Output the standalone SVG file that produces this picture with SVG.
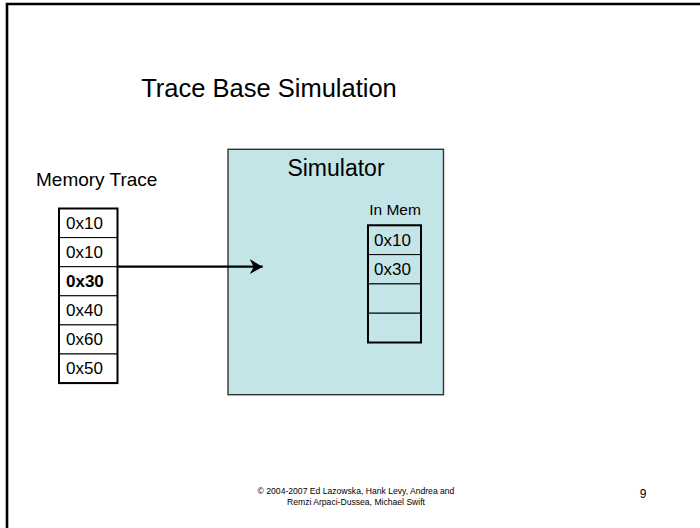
<svg xmlns="http://www.w3.org/2000/svg" width="700" height="528" viewBox="0 0 700 528">
  <style>
    text { font-family: "Liberation Sans", Arial, sans-serif; fill: #000; }
    .cell { fill: #fff; stroke: #000; stroke-width: 1; }
    .cell-sim { fill: #C4E5E8; stroke: #000; stroke-width: 1; }
    .cellbox { fill: none; stroke: #000; stroke-width: 2; }
    .val { font-size: 17px; }
    .conn { stroke: #000; stroke-width: 2.2; fill: none; }
  </style>
  <defs>
    <marker id="arrow" viewBox="0 0 14 16" refX="13" refY="8" markerWidth="14" markerHeight="16" markerUnits="userSpaceOnUse" orient="auto">
      <path d="M0,0.5 L13,8 L0,15.5 L4,8 Z" fill="#000"/>
    </marker>
  </defs>

  <rect width="700" height="528" fill="#fff"/>
  <!-- slide frame -->
  <path d="M7,528 V4 H700" fill="none" stroke="#000" stroke-width="2.6"/>

  <text x="269" y="97" font-size="25.5" text-anchor="middle">Trace Base Simulation</text>

  <!-- memory trace column -->
  <g id="memory-trace">
    <text x="36" y="186" font-size="19">Memory Trace</text>
    <rect class="cell" x="59" y="208.5" width="58.5" height="29.1"/>
    <rect class="cell" x="59" y="237.6" width="58.5" height="29.1"/>
    <rect class="cell" x="59" y="266.7" width="58.5" height="29.1"/>
    <rect class="cell" x="59" y="295.8" width="58.5" height="29.1"/>
    <rect class="cell" x="59" y="324.9" width="58.5" height="29.1"/>
    <rect class="cell" x="59" y="354" width="58.5" height="29.1"/>
    <rect class="cellbox" x="59" y="208.5" width="58.5" height="174.6"/>
    <text class="val" x="66" y="229">0x10</text>
    <text class="val" x="66" y="258">0x10</text>
    <text class="val" x="66" y="287" font-weight="bold">0x30</text>
    <text class="val" x="66" y="316">0x40</text>
    <text class="val" x="66" y="345">0x60</text>
    <text class="val" x="66" y="374">0x50</text>
  </g>

  <!-- simulator block -->
  <g id="simulator">
    <rect x="228" y="149.3" width="215.5" height="245.4" fill="#C4E5E8" stroke="#333" stroke-width="1.4"/>
    <text x="336" y="176" font-size="23" text-anchor="middle">Simulator</text>
  </g>

  <!-- in-memory pages -->
  <g id="in-mem">
    <text x="395" y="215" font-size="15.5" text-anchor="middle">In Mem</text>
    <rect class="cell-sim" x="368" y="225.3" width="53" height="29.3"/>
    <rect class="cell-sim" x="368" y="254.6" width="53" height="29.3"/>
    <rect class="cell-sim" x="368" y="283.9" width="53" height="29.3"/>
    <rect class="cell-sim" x="368" y="313.2" width="53" height="29.3"/>
    <rect class="cellbox" x="368" y="225.3" width="53" height="117.2"/>
    <text class="val" x="374" y="246">0x10</text>
    <text class="val" x="374" y="275">0x30</text>
  </g>

  <!-- connectors -->
  <g id="connectors">
    <path class="conn" d="M117.5,266.7 H262.7" marker-end="url(#arrow)"/>
  </g>

  <!-- footer -->
  <text x="356" y="494" font-size="8.6" text-anchor="middle">© 2004-2007 Ed Lazowska, Hank Levy, Andrea and</text>
  <text x="356" y="505" font-size="8.6" text-anchor="middle">Remzi Arpaci-Dussea, Michael Swift</text>
  <text x="643" y="498" font-size="12" text-anchor="middle">9</text>
</svg>
